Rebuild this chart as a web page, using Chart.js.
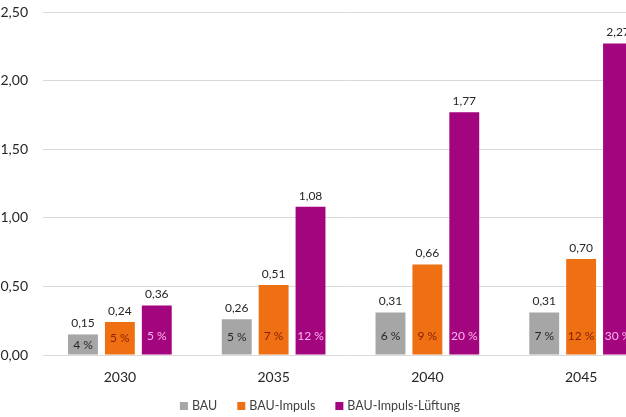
<!DOCTYPE html>
<html>
<head>
<meta charset="utf-8">
<script src="https://cdn.jsdelivr.net/npm/chart.js@4/dist/chart.umd.min.js"></script>
<style>
html,body{margin:0;padding:0;background:#fff;overflow:hidden;width:626px;height:417px;}
#wrap{width:670px;height:417px;}
</style>
</head>
<body>
<div id="wrap"><canvas id="c" width="670" height="417"></canvas></div>
<script>
const categories = ['2030', '2035', '2040', '2045'];
const seriesNames = ['BAU', 'BAU-Impuls', 'BAU-Impuls-Lüftung'];
const bauValues = [0.15, 0.26, 0.31, 0.31];
const impulsValues = [0.24, 0.51, 0.66, 0.70];
const lueftungValues = [0.36, 1.08, 1.77, 2.27];
const bauPercent = [4, 5, 6, 7];
const impulsPercent = [5, 7, 9, 12];
const lueftungPercent = [5, 12, 20, 30];
const yTickValues = [0, 0.5, 1.0, 1.5, 2.0, 2.5];

const FONT = 'Lato, "Liberation Sans", sans-serif';
const colors = ['#A6A6A6', '#EE7013', '#A3057F'];
const pctColors = ['#262626', '#8A1E00', '#FFB6EE'];
const percents = [bauPercent, impulsPercent, lueftungPercent];

const fmt = v => v.toFixed(2).replace('.', ',');

const labelPlugin = {
  id: 'labels',
  afterDatasetsDraw(chart) {
    const ctx = chart.ctx;
    const base = chart.scales.y.getPixelForValue(0);
    ctx.save();
    ctx.font = '12px ' + FONT;
    ctx.textAlign = 'center';
    chart.data.datasets.forEach((ds, di) => {
      const meta = chart.getDatasetMeta(di);
      meta.data.forEach((bar, i) => {
        ctx.fillStyle = '#262626';
        ctx.textBaseline = 'bottom';
        ctx.fillText(fmt(ds.data[i]), bar.x, bar.y - 5);
        const mid = (bar.y + base) / 2;
        const yy = Math.max(base - 19, mid);
        ctx.fillStyle = pctColors[di];
        ctx.textBaseline = 'middle';
        ctx.fillText(percents[di][i] + ' %', bar.x, yy);
      });
    });
    ctx.restore();
  },
  afterDraw(chart) {
    const ctx = chart.ctx;
    ctx.save();
    ctx.font = '12.5px ' + FONT;
    ctx.textBaseline = 'middle';
    ctx.textAlign = 'left';
    const box = 8, gapBox = 4, gapItem = 20;
    const items = chart.data.datasets.map(d => ({ label: d.label, color: d.backgroundColor, w: ctx.measureText(d.label).width }));
    const total = items.reduce((s, it) => s + box + gapBox + it.w, 0) + gapItem * (items.length - 1);
    let x = 320 - total / 2;
    const y = 406;
    items.forEach(it => {
      ctx.fillStyle = it.color;
      ctx.fillRect(x, y - box / 2, box, box);
      x += box + gapBox;
      ctx.fillStyle = '#404040';
      ctx.fillText(it.label, x, y);
      x += it.w + gapItem;
    });
    ctx.restore();
  }
};

new Chart(document.getElementById('c'), {
  type: 'bar',
  data: {
    labels: categories,
    datasets: [
      { label: seriesNames[0], data: bauValues, backgroundColor: colors[0] },
      { label: seriesNames[1], data: impulsValues, backgroundColor: colors[1] },
      { label: seriesNames[2], data: lueftungValues, backgroundColor: colors[2] }
    ]
  },
  options: {
    responsive: false,
    animation: false,
    categoryPercentage: 0.72,
    barPercentage: 0.81,
    layout: { padding: { top: 12, right: 12, bottom: 22, left: 0 } },
    plugins: { legend: { display: false }, tooltip: { enabled: false } },
    scales: {
      x: {
        grid: { display: false, drawTicks: false },
        border: { display: false },
        ticks: { color: '#262626', font: { family: FONT, size: 14 }, padding: 14 },
        afterFit(s) { s.height = 40; s.paddingLeft = 0; s.paddingRight = 0; }
      },
      y: {
        min: 0, max: 2.5,
        afterBuildTicks(s) { s.ticks = yTickValues.map(v => ({ value: v })); },
        grid: { color: '#D9D9D9', drawTicks: false },
        border: { display: false },
        ticks: { color: '#262626', font: { family: FONT, size: 14 }, padding: 15, callback: v => fmt(v) },
        afterFit(s) { s.width = 43; s.paddingTop = 0; s.paddingBottom = 0; }
      }
    }
  },
  plugins: [labelPlugin]
});
</script>
</body>
</html>
